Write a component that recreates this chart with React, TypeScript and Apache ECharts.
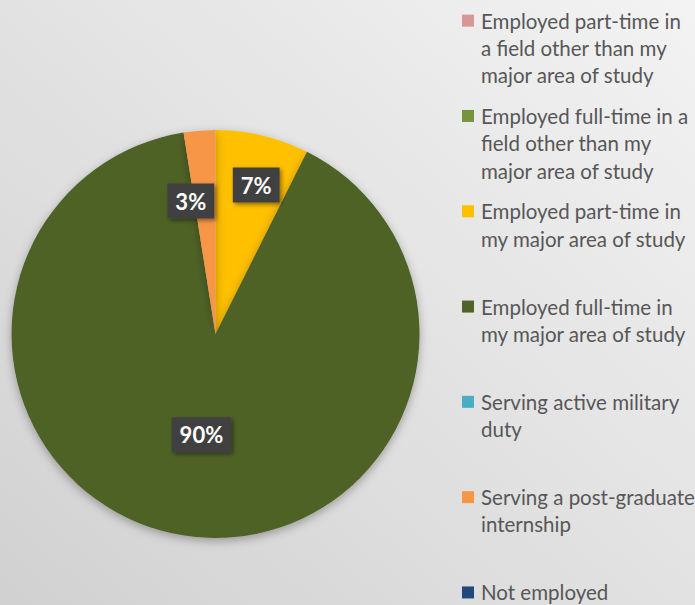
import React, { useEffect, useRef } from 'react';
import * as echarts from 'echarts';

const categories = [
  'Employed part-time in a field other than my major area of study',
  'Employed full-time in a field other than my major area of study',
  'Employed part-time in my major area of study',
  'Employed full-time in my major area of study',
  'Serving active military duty',
  'Serving a post-graduate internship',
  'Not employed',
];

const legendLines = [
  ['Employed part-time in', 'a field other than my', 'major area of study'],
  ['Employed full-time in a', 'field other than my', 'major area of study'],
  ['Employed part-time in', 'my major area of study'],
  ['Employed full-time in', 'my major area of study'],
  ['Serving active military', 'duty'],
  ['Serving a post-graduate', 'internship'],
  ['Not employed'],
];

const values = [0, 0, 7.4, 90.1, 0, 2.5, 0];

const colors = ['#D99694', '#77933C', '#FFC000', '#4F6228', '#4BACC6', '#F79646', '#1F497D'];

export default function App() {
  const ref = useRef<HTMLDivElement>(null);

  useEffect(() => {
    const chart = echarts.init(ref.current!, null, { renderer: 'svg' });
    const L = 27.3;
    const font = 'Lato';
    const rich: any = {
      t: { fontFamily: font, fontSize: 20.5, color: '#575757', lineHeight: L },
      gap: { width: 7, lineHeight: L },
      ind: { width: 19, lineHeight: L },
    };
    colors.forEach((c, i) => {
      rich['sq' + i] = { width: 12, height: 12, backgroundColor: c };
    });

    const labelShift: Record<number, [number, number]> = {
      2: [16.5, -46.7],
      3: [2, -3],
      5: [-16.5, -28.3],
    };

    chart.setOption({
      animation: false,
      backgroundColor: {
        type: 'linear',
        x: 1,
        y: 0,
        x2: 0,
        y2: 1,
        colorStops: [
          { offset: 0, color: '#f3f3f3' },
          { offset: 1, color: '#d1d1d1' },
        ],
      },
      legend: {
        orient: 'vertical',
        left: 457,
        top: 7,
        padding: 0,
        height: 900,
        itemGap: 13.4,
        icon: 'none',
        itemWidth: 0,
        itemHeight: 10,
        selectedMode: false,
        data: categories,
        formatter: (name: string) => {
          const i = categories.indexOf(name);
          const lines = legendLines[i].slice();
          if (i < categories.length - 1) {
            while (lines.length < 3) lines.push('');
          }
          return lines
            .map((ln, k) =>
              k === 0
                ? `{sq${i}|}{gap|}{t|${ln}}`
                : ln
                ? `{ind|}{t|${ln}}`
                : `{ind|}`
            )
            .join('\n');
        },
        textStyle: { rich, fontFamily: font, fontSize: 20.5, color: '#575757', lineHeight: L },
      },
      series: [
        {
          type: 'pie',
          center: [215.5, 334],
          radius: [0, 204],
          startAngle: 90,
          clockwise: true,
          silent: true,
          emphasis: { disabled: true },
          data: categories.map((n, i) => ({
            name: n,
            value: values[i],
            itemStyle: { color: colors[i] },
            label: { show: values[i] > 0 },
          })),
          itemStyle: {
            shadowBlur: 10,
            shadowColor: 'rgba(0,0,0,0.3)',
            shadowOffsetY: 3,
          },
          label: {
            position: 'inside',
            formatter: (p: any) => Math.round(p.value) + '%',
            backgroundColor: '#404040',
            color: '#ffffff',
            fontFamily: font,
            fontWeight: 'bold',
            fontSize: 22,
            lineHeight: 23,
            padding: [6, 8],
            shadowBlur: 4,
            shadowOffsetX: 2,
            shadowOffsetY: 2,
            shadowColor: 'rgba(0,0,0,0.45)',
          },
          labelLine: { show: false },
          labelLayout: (p: any) => {
            const s = labelShift[p.dataIndex] || [0, 0];
            return { dx: s[0], dy: s[1] };
          },
        },
      ],
    });

    return () => chart.dispose();
  }, []);

  return (
    <div
      ref={ref}
      style={{ position: 'absolute', left: 0, top: 0, width: 695, height: 605 }}
    />
  );
}
